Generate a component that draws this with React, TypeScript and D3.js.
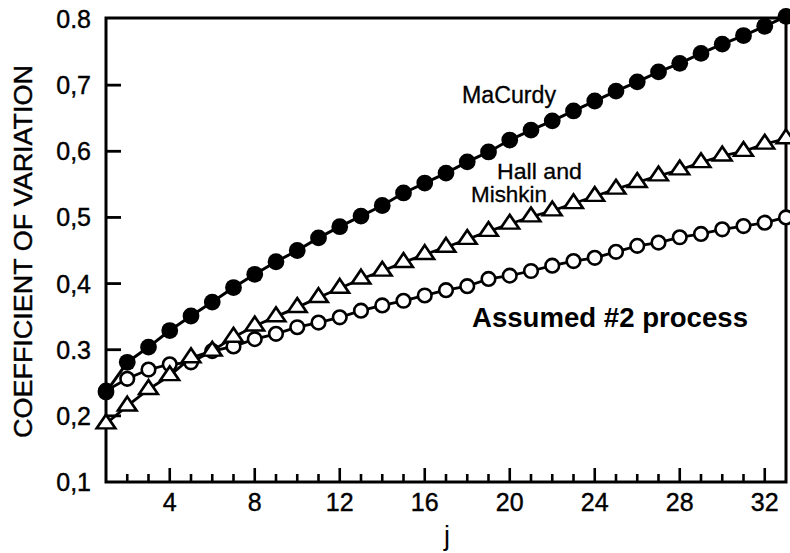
import React from 'react';
import * as d3 from 'd3';

// j = 1..33
const jValues = d3.range(1, 34);

const macurdy = [
  0.236, 0.281, 0.304, 0.329, 0.351, 0.372, 0.394, 0.414, 0.433, 0.450,
  0.469, 0.486, 0.502, 0.518, 0.537, 0.552, 0.567, 0.584, 0.599, 0.617,
  0.632, 0.646, 0.661, 0.676, 0.691, 0.705, 0.720, 0.733, 0.748, 0.762,
  0.775, 0.789, 0.804,
];

const hallMishkin = [
  0.188, 0.215, 0.240, 0.261, 0.288, 0.298, 0.319, 0.336, 0.350, 0.364,
  0.379, 0.393, 0.407, 0.419, 0.432, 0.444, 0.455, 0.467, 0.479, 0.490,
  0.501, 0.510, 0.521, 0.532, 0.543, 0.553, 0.563, 0.572, 0.583, 0.593,
  0.600, 0.611, 0.619,
];

const assumed2 = [
  0.238, 0.256, 0.270, 0.278, 0.281, 0.298, 0.305, 0.316, 0.324, 0.334,
  0.341, 0.349, 0.359, 0.367, 0.374, 0.382, 0.390, 0.396, 0.407, 0.412,
  0.419, 0.427, 0.434, 0.439, 0.448, 0.457, 0.462, 0.470, 0.475, 0.482,
  0.487, 0.492, 0.500,
];

const yTicks = [0.1, 0.2, 0.3, 0.4, 0.5, 0.6, 0.7, 0.8];
const yTickLabels = ['0,1', '0,2', '0.3', '0,4', '0,5', '0,6', '0,7', '0.8'];
const xMajorTicks = [4, 8, 12, 16, 20, 24, 28, 32];

const width = 790;
const height = 553;
const marginLeft = 106;
const marginRight = 4;
const marginTop = 18;
const marginBottom = 71;

const font = '"Liberation Sans", Arial, sans-serif';

export default function App() {
  const x = d3.scaleLinear().domain([1, 33]).range([marginLeft, width - marginRight]);
  const y = d3.scaleLinear().domain([0.1, 0.8]).range([height - marginBottom, marginTop + 1]);

  const line = d3.line<[number, number]>()
    .x(d => x(d[0]))
    .y(d => y(d[1]));

  const pts = (vals: number[]) => jValues.map((j, i) => [j, vals[i]] as [number, number]);
  const tri = d3.symbol().type(d3.symbolTriangle).size(130)();

  const x0 = x(1);
  const x1 = x(33);
  const yTop = marginTop;
  const yBot = y(0.1);

  return (
    <svg width={width} height={height} style={{ position: 'absolute', left: 0, top: 0, background: '#fff' }}>
      <rect width={width} height={height} fill="#fff" />
      {/* frame */}
      <path
        d={`M${x0},${yTop}H${x1}V${yBot}H${x0}Z`}
        fill="none"
        stroke="#000"
        strokeWidth={3}
      />
      {/* y ticks */}
      {yTicks.map((t, i) => (
        <g key={t}>
          {t > 0.1 && t < 0.8 && (
            <line x1={x0} x2={x0 + 15} y1={y(t)} y2={y(t)} stroke="#000" strokeWidth={2.8} />
          )}
          <text
            x={91}
            y={y(t)}
            dy="0.36em"
            textAnchor="end"
            fontFamily={font}
            fontSize={25}
            stroke="#000"
            strokeWidth={0.4}
            fill="#000"
          >
            {yTickLabels[i]}
          </text>
        </g>
      ))}
      {/* x ticks */}
      {jValues.filter(j => j > 1 && j < 33).map(j => {
        const major = j % 4 === 0;
        return (
          <line
            key={j}
            x1={x(j)}
            x2={x(j)}
            y1={yBot}
            y2={yBot - (major ? 14 : 8)}
            stroke="#000"
            strokeWidth={2.6}
          />
        );
      })}
      {xMajorTicks.map(t => (
        <text
          key={t}
          x={x(t)}
          y={yBot + 29}
          textAnchor="middle"
          fontFamily={font}
          fontSize={25}
          stroke="#000"
          strokeWidth={0.4}
          fill="#000"
        >
          {t}
        </text>
      ))}
      <text x={447} y={545} textAnchor="middle" fontFamily={font} fontSize={27} fill="#000">j</text>
      <text
        transform={`translate(32,${(65 + 438) / 2}) rotate(-90)`}
        textAnchor="middle"
        fontFamily={font}
        fontSize={26}
        textLength={373}
        lengthAdjust="spacingAndGlyphs"
        stroke="#000"
        strokeWidth={0.4}
        fill="#000"
      >
        COEFFICIENT OF VARIATION
      </text>

      {/* Assumed #2 process: open circles */}
      <path d={line(pts(assumed2)) || ''} fill="none" stroke="#000" strokeWidth={2.8} />
      {pts(assumed2).map(d => (
        <circle key={`a${d[0]}`} cx={x(d[0])} cy={y(d[1])} r={6.8} fill="#fff" stroke="#000" strokeWidth={2.6} />
      ))}

      {/* Hall and Mishkin: open triangles */}
      <path d={line(pts(hallMishkin)) || ''} fill="none" stroke="#000" strokeWidth={2.8} />
      {pts(hallMishkin).map(d => (
        <path
          key={`h${d[0]}`}
          d={tri || ''}
          transform={`translate(${x(d[0])},${y(d[1])}) scale(1.08,0.92)`}
          fill="#fff"
          stroke="#000"
          strokeWidth={2.6}
        />
      ))}

      {/* MaCurdy: filled circles */}
      <path d={line(pts(macurdy)) || ''} fill="none" stroke="#000" strokeWidth={3} />
      {pts(macurdy).map(d => (
        <circle key={`m${d[0]}`} cx={x(d[0])} cy={y(d[1])} r={8.4} fill="#000" />
      ))}

      {/* labels */}
      <text x={462} y={103} fontFamily={font} fontSize={23} textLength={94} lengthAdjust="spacingAndGlyphs" stroke="#000" strokeWidth={0.3} fill="#000">MaCurdy</text>
      <text x={497} y={179} fontFamily={font} fontSize={22.5} textLength={85} lengthAdjust="spacingAndGlyphs" stroke="#000" strokeWidth={0.3} fill="#000">Hall and</text>
      <text x={471} y={202} fontFamily={font} fontSize={22.5} textLength={76} lengthAdjust="spacingAndGlyphs" stroke="#000" strokeWidth={0.3} fill="#000">Mishkin</text>
      <text
        x={472}
        y={327}
        fontFamily={font}
        fontSize={27}
        fontWeight="bold"
        textLength={276}
        lengthAdjust="spacingAndGlyphs"
        fill="#000"
      >
        Assumed #2 process
      </text>
    </svg>
  );
}
